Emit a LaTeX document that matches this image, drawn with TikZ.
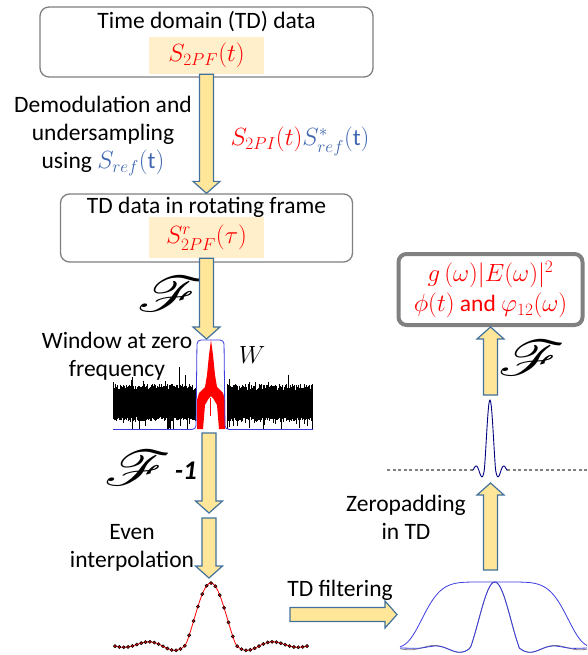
\documentclass[tikz,border=0pt]{standalone}
\usepackage{amsmath,amssymb}
\usepackage{mathrsfs}
\usepackage{graphicx}
\usepackage{fontspec}
\setmainfont{Carlito}
\usepackage{xcolor}
\usepackage{tikz}
\usetikzlibrary{calc}

\definecolor{arrowfill}{HTML}{FFE699}
\definecolor{arrowline}{HTML}{41719C}
\definecolor{hlfill}{HTML}{FFEFCB}
\definecolor{refblue}{HTML}{3F66B0}
\definecolor{boxgray}{HTML}{7F7F7F}
\definecolor{winblue}{HTML}{3B3BE0}

% block arrow from #1 to #2 (tip at #2)
\newcommand{\blkarrow}[2]{%
  \coordinate (bh) at ($(#2)!12pt!(#1)$);
  \filldraw[fill=arrowfill, draw=arrowline, line width=1.2pt, line join=miter]
    ($(#1)!7pt!90:(#2)$) -- ($(bh)!7pt!-90:(#1)$) -- ($(bh)!13.5pt!-90:(#1)$)
    -- (#2) -- ($(bh)!13.5pt!90:(#1)$) -- ($(bh)!7pt!90:(#1)$)
    -- ($(#1)!7pt!-90:(#2)$) -- cycle;}
\newcommand{\bigF}{\scalebox{2.6}[2.0]{$\mathscr{F}$}}

\begin{document}
\begin{tikzpicture}[x=1pt, y=-1pt,
    font=\fontsize{23.5}{28}\selectfont,
    tdbox/.style={draw=boxgray, line width=1.3pt, rounded corners=9, fill=white, inner sep=0},
    hl/.style={fill=hlfill, minimum width=115, minimum height=37, inner sep=0, text=red},
    resbox/.style={draw=gray, line width=4pt, rounded corners=8, fill=white, text=red,
      align=center, minimum width=184, minimum height=71, inner sep=0,
      font=\fontsize{23.5}{30}\selectfont}]
  \useasboundingbox (0,0) rectangle (587,655);

  % boxes
  \node[tdbox, minimum width=333, minimum height=70] (box1) at (206.5,42) {};
  \node (title1) at (206.5,22) {Time domain (TD) data};
  \node[hl] (hl1) at (206.5,55.5) {$S_{2PF}(t)$};
  \node[tdbox, minimum width=292, minimum height=68] (box2) at (206.5,228) {};
  \node (title2) at (206.5,207) {TD data in rotating frame};
  \node[hl, minimum height=41] (hl2) at (206.5,237.5) {$S^{r}_{2PF}(\tau)$};
  \node[resbox] (res) at (490.5,289.5) {$g\,(\omega)|E(\omega)|^2$\\$\phi(t)$ and $\varphi_{12}(\omega)$};

  % labels
  \node[align=center] (demod) at (103,136) {Demodulation and\\undersampling\\using \textcolor{refblue}{$S_{ref}(\mathrm{t})$}};
  \node (demodeq) at (300,141) {$\color{red}S_{2PI}(t)\color{refblue}S^{*}_{ref}(\mathrm{t})$};
  \node (ft1) at (171,294) {\bigF};
  \node[align=center] (window) at (117,356) {Window at zero\\frequency};
  \node[font=\fontsize{27}{27}\selectfont] (wlabel) at (252,355) {$W$};
  \node[anchor=east, inner sep=0] (ftinv) at (197,468) {\bigF\,\raisebox{6pt}{\fontsize{27}{27}\selectfont\textbf{\textit{-1}}}};
  \node[align=center] (even) at (132,548) {Even\\interpolation};
  \node (filt) at (340,590) {TD filtering};
  \node[align=center] (zeropad) at (406,517) {Zeropadding\\in TD};
  \node (ft2) at (532,358) {\bigF};

  % spectrum with window
  \pgfmathsetseed{11}
  \foreach \xx in {113,113.6,...,195.5} {
    \pgfmathsetmacro{\ytop}{390-6*rnd-18*rnd^30}
    \pgfmathsetmacro{\ybot}{min(417+4*rnd+12*rnd^8,429)}
    \draw[line width=0.7pt] (\xx,\ytop) -- (\xx,\ybot);
  }
  \foreach \xx in {227,227.6,...,313} {
    \pgfmathsetmacro{\ytop}{390-6*rnd-18*rnd^30}
    \pgfmathsetmacro{\ybot}{min(417+4*rnd+12*rnd^8,429)}
    \draw[line width=0.7pt] (\xx,\ytop) -- (\xx,\ybot);
  }
  \fill[red] (211,340) -- (213,355) -- (215,375) -- (217,387) -- (223,393) -- (225,400)
    -- (225,429) -- (219,429) -- (217,405) -- (213,398) -- (211,396) -- (209,398)
    -- (205,405) -- (203,429) -- (197,429) -- (197,400) -- (199,393) -- (205,387)
    -- (207,375) -- (209,355) -- cycle;
  \draw[red, line width=1pt] (210.5,398) -- (210.5,416);
  \draw[winblue, line width=0.8pt, rounded corners=4] (113,429.5) -- (196,429.5) -- (197,340)
    -- (224,340) -- (225,429.5) -- (313,429.5);

  % interpolated data
  \draw[red, line width=0.8pt] plot[smooth, domain=-96:96, samples=97]
    ({211+\x}, {645-62*sin(deg(0.125*(\x+0.2)))/(0.125*(\x+0.2))*ifthenelse(abs(\x)<25.1,1,0.4)});
  \draw plot[only marks, mark=*, mark size=1.6, mark options={fill=red!80!black, draw=black, line width=0.5pt},
    domain=-96:96, samples=45]
    ({211+\x}, {645-62*sin(deg(0.125*(\x+0.2)))/(0.125*(\x+0.2))*ifthenelse(abs(\x)<25.1,1,0.4)});

  % filtered data
  \draw[gray, line width=0.8pt] plot[smooth, domain=-95:92, samples=120]
    ({495+\x}, {648-66*sin(deg(0.128*(\x+0.2)))/(0.128*(\x+0.2))*ifthenelse(abs(\x)<24.5,1,0.3)});
  \draw[winblue, line width=0.8pt] plot[smooth, domain=-95:92, samples=120]
    ({495+\x}, {648-66*exp(-0.693*(\x*\x/5041)^3)});
  \draw[winblue, line width=0.8pt] plot[smooth, domain=-95:92, samples=120]
    ({495+\x}, {648-66*exp(-0.693*(\x*\x/5041)^3)*sin(deg(0.128*(\x+0.2)))/(0.128*(\x+0.2))*ifthenelse(abs(\x)<24.5,1,0.3)});

  % zero padded data
  \draw[gray, line width=1.2pt, dash pattern=on 3pt off 2.5pt] (387,470) -- (473,470);
  \draw[gray, line width=1.2pt, dash pattern=on 3pt off 2.5pt] (507,470) -- (587,470);
  \draw[blue!50!black, line width=0.9pt] plot[smooth, domain=-17:17, samples=69]
    ({490+\x}, {470-70*sin(deg(0.56*(\x+0.05)))/(0.56*(\x+0.05))*ifthenelse(abs(\x)<5.6,1,0.45)});

  % arrows
  \coordinate (wtop) at (206.5,339);
  \coordinate (specbot) at (209,433);
  \coordinate (gapA) at (209,513);
  \coordinate (gapB) at (209,518);
  \coordinate (sincpk) at (209,578);
  \coordinate (filtA) at (290,614.5);
  \coordinate (filtB) at (397,614.5);
  \coordinate (zpA) at (490.5,570);
  \coordinate (zpB) at (490.5,483);
  \coordinate (ftA) at (490.5,395);
  \blkarrow{hl1.south}{box2.north}
  \blkarrow{hl2.south}{wtop}
  \blkarrow{specbot}{gapA}
  \blkarrow{gapB}{sincpk}
  \blkarrow{filtA}{filtB}
  \blkarrow{zpA}{zpB}
  \blkarrow{ftA}{res.south}
\end{tikzpicture}
\end{document}
